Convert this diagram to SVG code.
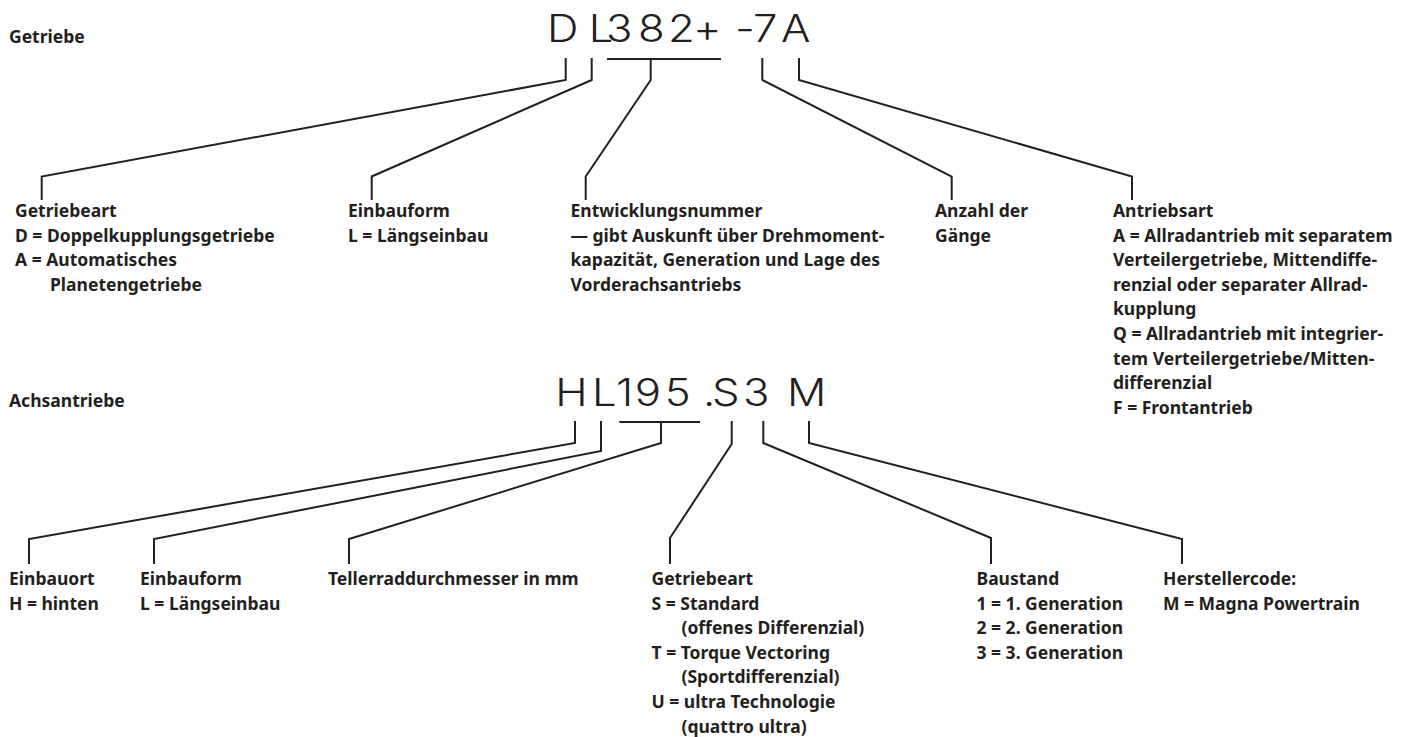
<svg xmlns="http://www.w3.org/2000/svg" width="1421" height="737" viewBox="0 0 1421 737">
<style>
.t{font-family:"Noto Sans","Open Sans",sans-serif;font-weight:700;font-size:17.5px;fill:#231f20}
.code{font-family:Inter,"DejaVu Sans",sans-serif;font-weight:300;font-size:38px;fill:#231f20}
.c{fill:none;stroke:#231f20;stroke-width:2;stroke-linejoin:miter}
</style>
<rect width="1421" height="737" fill="#fff"/>
<g id="title-getriebe"><text class="t" x="9" y="43">Getriebe</text></g>
<g id="title-achs"><text class="t" x="9" y="407">Achsantriebe</text></g>
<g id="code-getriebe"><text class="code" transform="scale(1.15 1)" y="42" x="475.7 511.9 527 554.8 580.9 602.6 626.1 639.1 654.8 679.1">DL382+ -7A</text></g>
<g id="code-achs"><text class="code" transform="scale(1.15 1)" y="406" x="482.9 514.8 535.7 551.9 578 611.3 619.1 646.1 673.9 684.3">HL195.S3 M</text></g>
<g id="connectors">
<path class="c" d="M565.7 58V80L41.7 176.5V200"/>
<path class="c" d="M591.7 58V80L371.7 176.5V200"/>
<path class="c" d="M607 59H721M650.7 59V80L585.7 176.5V200"/>
<path class="c" d="M762.3 58V80L951.7 176.5V200"/>
<path class="c" d="M799 58V80L1132 176.5V200"/>
<path class="c" d="M575 421V443L29 539V564"/>
<path class="c" d="M601 421V451L154 539V564"/>
<path class="c" d="M619.3 422H700M661 422V443L349 539V564"/>
<path class="c" d="M731.7 421V444L670 538V564"/>
<path class="c" d="M763.3 421V443L991 538V564"/>
<path class="c" d="M809 421V443L1182 539V564"/>
</g>
<g id="n-getriebeart"><text class="t" x="15" y="217">Getriebeart</text><text class="t" x="15" y="241.6">D = Doppelkupplungsgetriebe</text><text class="t" x="15" y="266.2">A = Automatisches</text><text class="t" x="50" y="290.8">Planetengetriebe</text></g>
<g id="n-einbauform1"><text class="t" x="348" y="217">Einbauform</text><text class="t" x="348" y="241.6">L = Längseinbau</text></g>
<g id="n-entwicklung"><text class="t" x="570.5" y="217">Entwicklungsnummer</text><text class="t" x="570.5" y="241.6">— gibt Auskunft über Drehmoment-</text><text class="t" x="570.5" y="266.2">kapazität, Generation und Lage des</text><text class="t" x="570.5" y="290.8">Vorderachsantriebs</text></g>
<g id="n-anzahl"><text class="t" x="935" y="217">Anzahl der</text><text class="t" x="935" y="241.6">Gänge</text></g>
<g id="n-antriebsart"><text class="t" x="1113" y="217">Antriebsart</text><text class="t" x="1113" y="241.6">A = Allradantrieb mit separatem</text><text class="t" x="1113" y="266.2">Verteilergetriebe, Mittendiffe-</text><text class="t" x="1113" y="290.8">renzial oder separater Allrad-</text><text class="t" x="1113" y="315.4">kupplung</text><text class="t" x="1113" y="340">Q = Allradantrieb mit integrier-</text><text class="t" x="1113" y="364.6">tem Verteilergetriebe/Mitten-</text><text class="t" x="1113" y="389.2">differenzial</text><text class="t" x="1113" y="413.8">F = Frontantrieb</text></g>
<g id="n-einbauort"><text class="t" x="9" y="585">Einbauort</text><text class="t" x="9" y="609.6">H = hinten</text></g>
<g id="n-einbauform2"><text class="t" x="140" y="585">Einbauform</text><text class="t" x="140" y="609.6">L = Längseinbau</text></g>
<g id="n-teller"><text class="t" x="328" y="585">Tellerraddurchmesser in mm</text></g>
<g id="n-getriebeart2"><text class="t" x="651.5" y="585">Getriebeart</text><text class="t" x="651.5" y="609.6">S = Standard</text><text class="t" x="681.5" y="634.2">(offenes Differenzial)</text><text class="t" x="651.5" y="658.8">T = Torque Vectoring</text><text class="t" x="681.5" y="683.4">(Sportdifferenzial)</text><text class="t" x="651.5" y="708">U = ultra Technologie</text><text class="t" x="681.5" y="732.6">(quattro ultra)</text></g>
<g id="n-baustand"><text class="t" x="976.5" y="585">Baustand</text><text class="t" x="976.5" y="609.6">1 = 1. Generation</text><text class="t" x="976.5" y="634.2">2 = 2. Generation</text><text class="t" x="976.5" y="658.8">3 = 3. Generation</text></g>
<g id="n-hersteller"><text class="t" x="1163" y="585">Herstellercode:</text><text class="t" x="1163" y="609.6">M = Magna Powertrain</text></g>
</svg>
